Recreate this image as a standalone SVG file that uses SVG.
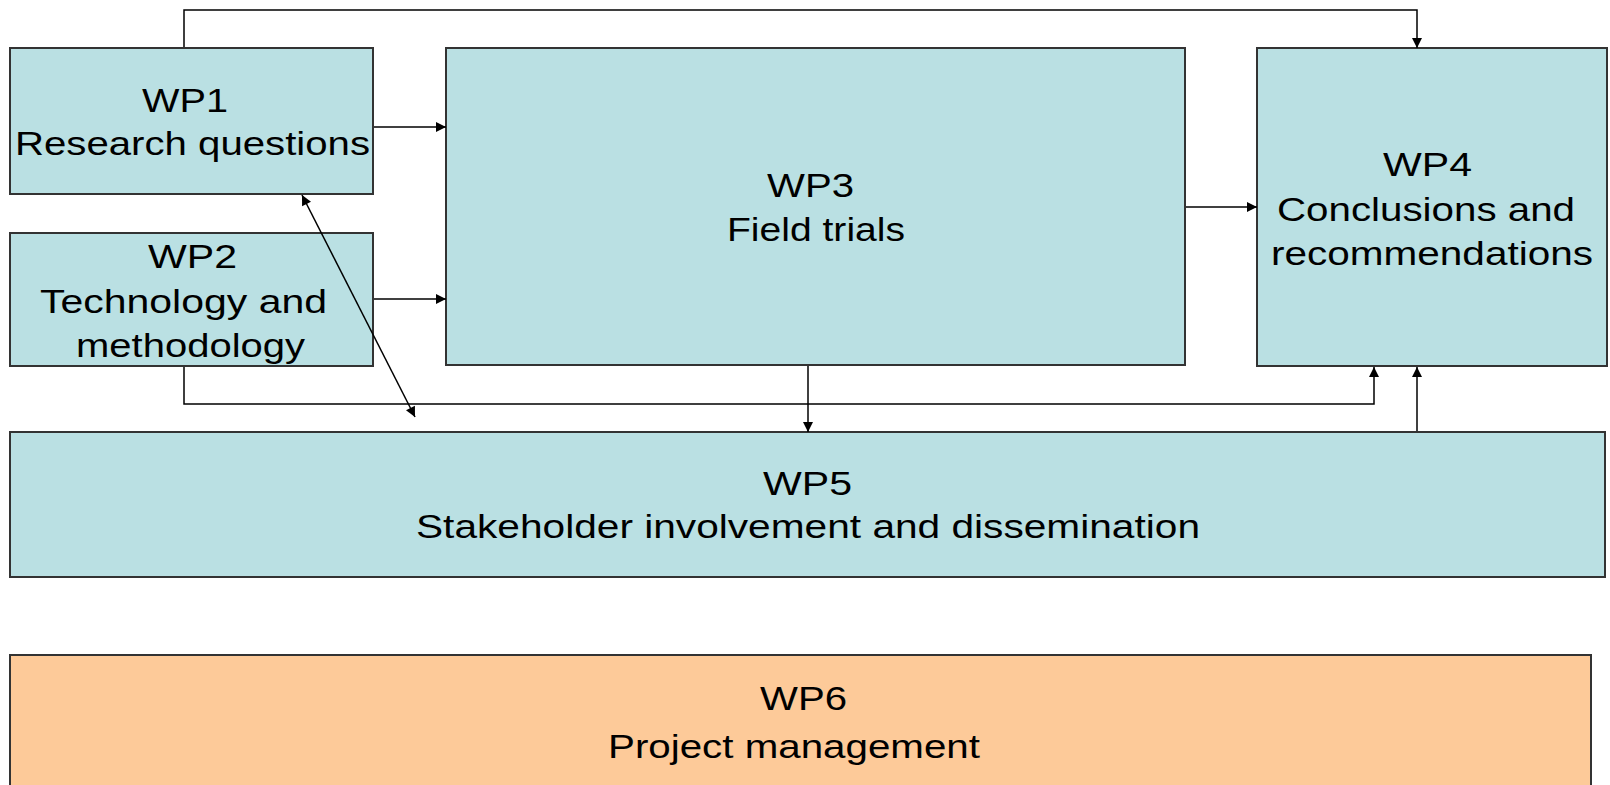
<svg xmlns="http://www.w3.org/2000/svg" width="1610" height="785" viewBox="0 0 1610 785">
<style>
.box{fill:#BAE0E3;stroke:#333;stroke-width:2}
.pm{fill:#FDCA99;stroke:#333;stroke-width:2}
.t{font-family:"Liberation Sans",Arial,sans-serif;font-size:34px;fill:#000}
.c{fill:none;stroke:#000;stroke-width:1.5}
</style>
<defs>
<marker id="ah" viewBox="0 0 10 10" refX="10" refY="5" markerWidth="12" markerHeight="10" markerUnits="userSpaceOnUse" orient="auto-start-reverse">
<path d="M0,0 L10,5 L0,10 Z" fill="#000"/>
</marker>
</defs>
<rect width="1610" height="785" fill="#fff"/>
<g id="wp1">
<rect class="box" x="10" y="48" width="363" height="146"/>
<text class="t" x="142" y="112" textLength="86" lengthAdjust="spacingAndGlyphs">WP1</text>
<text class="t" x="15" y="155" textLength="355" lengthAdjust="spacingAndGlyphs">Research questions</text>
</g>
<g id="wp2">
<rect class="box" x="10" y="233" width="363" height="133"/>
<text class="t" x="148" y="268" textLength="89" lengthAdjust="spacingAndGlyphs">WP2</text>
<text class="t" x="40" y="313" textLength="287" lengthAdjust="spacingAndGlyphs">Technology and</text>
<text class="t" x="76" y="357" textLength="229" lengthAdjust="spacingAndGlyphs">methodology</text>
</g>
<g id="wp3">
<rect class="box" x="446" y="48" width="739" height="317"/>
<text class="t" x="767" y="197" textLength="87" lengthAdjust="spacingAndGlyphs">WP3</text>
<text class="t" x="727" y="241" textLength="178" lengthAdjust="spacingAndGlyphs">Field trials</text>
</g>
<g id="wp4">
<rect class="box" x="1257" y="48" width="350" height="318"/>
<text class="t" x="1383" y="176" textLength="89" lengthAdjust="spacingAndGlyphs">WP4</text>
<text class="t" x="1277" y="221" textLength="298" lengthAdjust="spacingAndGlyphs">Conclusions and</text>
<text class="t" x="1271" y="265" textLength="322" lengthAdjust="spacingAndGlyphs">recommendations</text>
</g>
<g id="wp5">
<rect class="box" x="10" y="432" width="1595" height="145"/>
<text class="t" x="763" y="495" textLength="89" lengthAdjust="spacingAndGlyphs">WP5</text>
<text class="t" x="416" y="538" textLength="784" lengthAdjust="spacingAndGlyphs">Stakeholder involvement and dissemination</text>
</g>
<g id="wp6">
<rect class="pm" x="10" y="655" width="1581" height="140"/>
<text class="t" x="760" y="710" textLength="87" lengthAdjust="spacingAndGlyphs">WP6</text>
<text class="t" x="608" y="758" textLength="372" lengthAdjust="spacingAndGlyphs">Project management</text>
</g>
<g id="connectors">
<polyline class="c" points="184,47 184,10 1417,10 1417,48" marker-end="url(#ah)"/>
<line class="c" x1="374" y1="127" x2="446" y2="127" marker-end="url(#ah)"/>
<line class="c" x1="374" y1="299" x2="446" y2="299" marker-end="url(#ah)"/>
<line class="c" x1="1186" y1="207" x2="1257" y2="207" marker-end="url(#ah)"/>
<polyline class="c" points="184,367 184,404 1374,404 1374,367" marker-end="url(#ah)"/>
<line class="c" x1="808" y1="366" x2="808" y2="432" marker-end="url(#ah)"/>
<line class="c" x1="1417" y1="431" x2="1417" y2="367" marker-end="url(#ah)"/>
<line class="c" x1="302" y1="195" x2="415" y2="417" marker-start="url(#ah)" marker-end="url(#ah)"/>
</g>
</svg>
